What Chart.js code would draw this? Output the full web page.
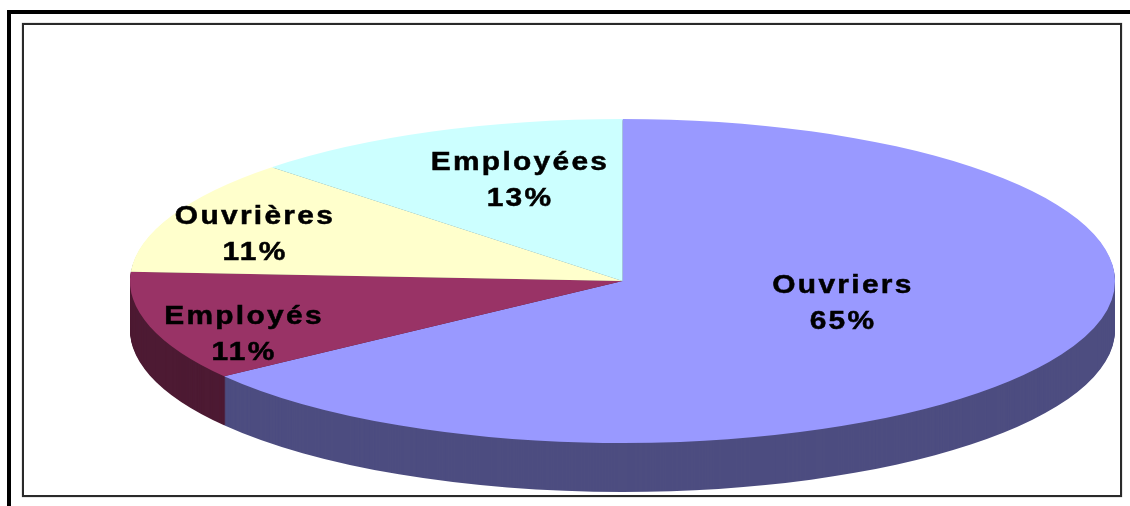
<!DOCTYPE html>
<html>
<head>
<meta charset="utf-8">
<script src="https://cdn.jsdelivr.net/npm/chart.js@4"></script>
<style>
  html, body { margin: 0; padding: 0; background: #fff; overflow: hidden; }
  #page { position: relative; width: 1130px; height: 506px; }
  #outer { position: absolute; left: 7px; top: 10px; right: 0; bottom: 0; border-left: 4px solid #000; border-top: 4px solid #000; }
  #inner { position: absolute; left: 22px; top: 23px; width: 1096px; height: 470px; border: 2px solid #2a2a2a; box-shadow: 0 0 1px #777; }
  canvas { position: absolute; left: 0; top: 0; }
</style>
</head>
<body>
<div id="page">
  <div id="outer"></div>
  <div id="inner"></div>
  <canvas id="chart" width="1130" height="506"></canvas>
</div>
<script>
// pie data, clockwise from 12 o'clock
const categories = ['Ouvriers', 'Employés', 'Ouvrières', 'Employées'];
const shares = [65, 10.9, 11.49, 12.61];

const topColors = ['#9999ff', '#993366', '#ffffcc', '#ccffff'];
const sideColors = ['#4d4d80', '#4d1a33', '#80806a', '#6a8080'];

// where each label block is centred on the page
const labelCenters = [[843, 304], [244, 335], [255, 235], [520, 181]];

const PIE_RADIUS_X = 492.5;
const PIE_RADIUS_Y = 162;
const PIE_DEPTH = 49;

// squashes the round pie into an ellipse and extrudes the rim
const tiltedPie = {
  id: 'tiltedPie',
  beforeDatasetsDraw(chart) {
    const ctx = chart.ctx;
    const arcs = chart.getDatasetMeta(0).data;
    const { x, y } = arcs[0];

    for (let d = PIE_DEPTH; d > 0; d--) {
      arcs.forEach((arc, i) => {
        ctx.save();
        ctx.translate(x, y + d);
        ctx.scale(PIE_RADIUS_X / PIE_RADIUS_Y, 1);
        ctx.fillStyle = sideColors[i];
        ctx.beginPath();
        ctx.moveTo(0, 0);
        ctx.arc(0, 0, arc.outerRadius, arc.startAngle, arc.endAngle);
        ctx.closePath();
        ctx.fill();
        ctx.restore();
      });
    }

    ctx.save();
    ctx.translate(x, y);
    ctx.scale(PIE_RADIUS_X / PIE_RADIUS_Y, 1);
    ctx.translate(-x, -y);
  },
  afterDatasetsDraw(chart) {
    const ctx = chart.ctx;
    ctx.restore();

    ctx.save();
    ctx.fillStyle = '#000';
    ctx.strokeStyle = '#000';
    ctx.lineWidth = 0.5;
    ctx.filter = 'blur(0.6px)';
    ctx.font = 'bold 26px "Liberation Sans"';
    ctx.letterSpacing = '2px';
    ctx.textAlign = 'center';
    ctx.textBaseline = 'middle';
    categories.forEach((name, i) => {
      const [cx, cy] = labelCenters[i];
      const pct = Math.round(shares[i]) + '%';
      ctx.save();
      ctx.translate(cx, cy);
      ctx.scale(1.15, 1);
      ctx.fillText(name, 0, -18);
      ctx.strokeText(name, 0, -18);
      ctx.fillText(pct, 0, 18);
      ctx.strokeText(pct, 0, 18);
      ctx.restore();
    });
    ctx.restore();
  }
};

new Chart(document.getElementById('chart').getContext('2d'), {
  type: 'pie',
  data: {
    labels: categories,
    datasets: [{
      data: shares,
      backgroundColor: topColors,
      borderWidth: 0,
      radius: PIE_RADIUS_Y,
      clip: false
    }]
  },
  options: {
    responsive: false,
    animation: false,
    layout: { padding: { left: 115, top: 56 } },
    plugins: {
      legend: { display: false },
      tooltip: { enabled: false }
    }
  },
  plugins: [tiltedPie]
});
</script>
</body>
</html>
